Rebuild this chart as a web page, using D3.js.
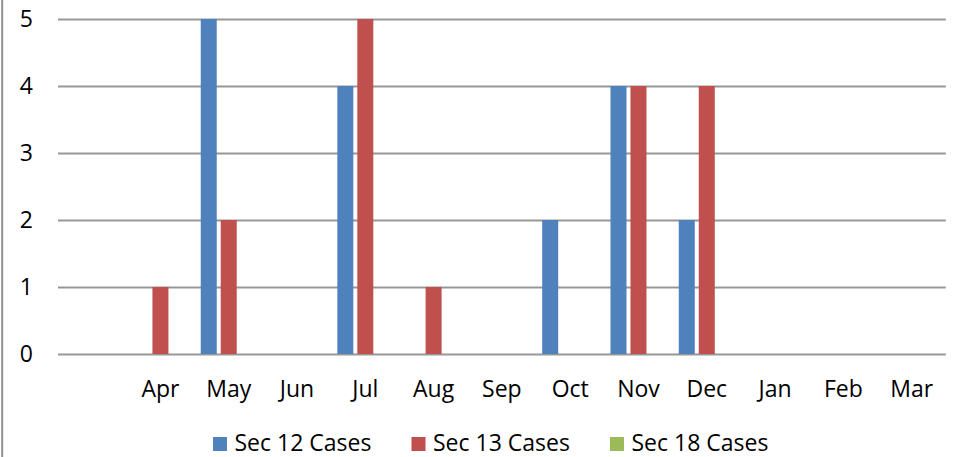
<!DOCTYPE html>
<html>
<head>
<meta charset="utf-8">
<script src="https://cdn.jsdelivr.net/npm/d3@7"></script>
<style>
  body { margin: 0; background: #fff; }
  svg { display: block; font-family: "Open Sans", sans-serif; }
</style>
</head>
<body>
<div id="chart"></div>
<script>
// data (first category is blank in the source sheet)
var months = ["", "Apr", "May", "Jun", "Jul", "Aug", "Sep", "Oct", "Nov", "Dec", "Jan", "Feb", "Mar"];
var sec12 = [0, 0, 5, 0, 4, 0, 0, 2, 4, 2, 0, 0, 0];
var sec13 = [0, 1, 2, 0, 5, 1, 0, 0, 4, 4, 0, 0, 0];
var sec18 = [0, 0, 0, 0, 0, 0, 0, 0, 0, 0, 0, 0, 0];
var seriesNames = ["Sec 12 Cases", "Sec 13 Cases", "Sec 18 Cases"];
var seriesColors = ["#4f81bd", "#c0504d", "#9bbb59"];
var yTicks = [0, 1, 2, 3, 4, 5];

var width = 959,
    height = 457;

var fontSize = 23;

var series = [sec12, sec13, sec18];

var svg = d3.select("#chart")
    .append("svg")
    .attr("width", width)
    .attr("height", height);

// chart area border (only left edge is visible in the crop)
svg.append("line")
    .attr("x1", 2.2).attr("x2", 2.2)
    .attr("y1", 0).attr("y2", height)
    .attr("stroke", "#8e8e8e")
    .attr("stroke-width", 2);

var x0 = d3.scaleBand()
    .domain(d3.range(months.length))
    .range([58, 945.8]);

var x1 = d3.scaleBand()
    .domain(d3.range(seriesNames.length))
    .range([0, x0.bandwidth()])
    .paddingInner(0.2)
    .paddingOuter(0.3075);

var y = d3.scaleLinear()
    .domain([0, 5])
    .range([354, 19]);

// gridlines
var grid = svg.append("g")
    .attr("transform", "translate(58,0)")
    .call(d3.axisLeft(y).tickValues(yTicks).tickSize(-(945.8 - 58)).tickFormat(""));
grid.select(".domain").remove();
grid.selectAll("line")
    .attr("stroke", "#979797")
    .attr("stroke-width", 2.2);

// y labels
svg.selectAll(".ylab")
    .data(yTicks)
    .enter()
    .append("text")
    .attr("class", "ylab")
    .attr("x", 33)
    .attr("y", function(d) { return y(d); })
    .attr("dy", "0.36em")
    .attr("text-anchor", "end")
    .attr("font-size", fontSize)
    .attr("fill", "#000")
    .text(function(d) { return d; });

// x labels
svg.selectAll(".xlab")
    .data(months)
    .enter()
    .append("text")
    .attr("class", "xlab")
    .attr("x", function(d, i) { return x0(i) + x0.bandwidth() / 2; })
    .attr("y", 397)
    .attr("text-anchor", "middle")
    .attr("font-size", fontSize)
    .attr("fill", "#000")
    .text(function(d) { return d; });

// bars
var groups = svg.selectAll(".grp")
    .data(months)
    .enter()
    .append("g")
    .attr("class", "grp")
    .attr("transform", function(d, i) { return "translate(" + x0(i) + ",0)"; });

groups.selectAll("rect")
    .data(function(d, i) {
        return series.map(function(s, k) { return {k: k, v: s[i]}; })
            .filter(function(e) { return e.v > 0; });
    })
    .enter()
    .append("rect")
    .attr("x", function(d) { return x1(d.k); })
    .attr("y", function(d) { return y(d.v); })
    .attr("width", x1.bandwidth())
    .attr("height", function(d) { return y(0) - y(d.v); })
    .attr("fill", function(d) { return seriesColors[d.k]; });

// legend
var legend = svg.selectAll(".leg")
    .data(seriesNames)
    .enter()
    .append("g")
    .attr("class", "leg")
    .attr("transform", function(d, i) { return "translate(" + (213 + i * 198.5) + ",437)"; });

legend.append("rect")
    .attr("width", 14)
    .attr("height", 14)
    .attr("fill", function(d, i) { return seriesColors[i]; });

legend.append("text")
    .attr("x", 21.5)
    .attr("y", 14)
    .attr("font-size", fontSize)
    .attr("fill", "#000")
    .text(function(d) { return d; });
</script>
</body>
</html>
